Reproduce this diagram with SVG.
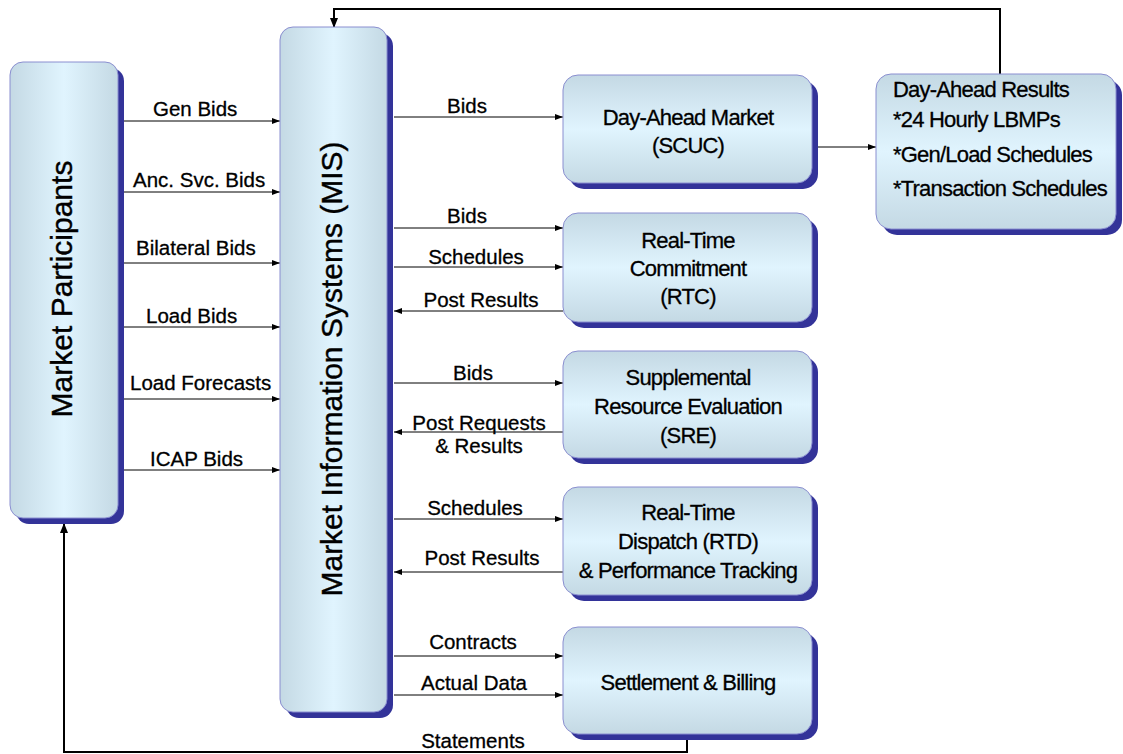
<svg xmlns="http://www.w3.org/2000/svg" width="1123" height="754" viewBox="0 0 1123 754">
<style>
.shadow{fill:#333399}
.v{fill:url(#gv);stroke:#8a8ed0;stroke-width:1}
.h{fill:url(#gh);stroke:#8a8ed0;stroke-width:1}
text{font-family:"Liberation Sans",Arial,sans-serif;fill:#000;stroke:#000;stroke-width:0.3}
.bt{font-size:22px;letter-spacing:-0.8px;text-anchor:middle}
.big{font-size:30px;text-anchor:middle;stroke-width:0.4}
.lb{font-size:20.5px}
.rt{font-size:22px;letter-spacing:-0.8px}
.c{stroke:#000;stroke-width:1;fill:none}
.ct{stroke:#000;stroke-width:2;fill:none}
</style>
<defs>
<linearGradient id="gv" x1="0" y1="0" x2="1" y2="0">
<stop offset="0" stop-color="#c4d9e4"/>
<stop offset="0.5" stop-color="#e0f4fe"/>
<stop offset="1" stop-color="#c4d9e4"/>
</linearGradient>
<linearGradient id="gh" x1="0" y1="0" x2="0" y2="1">
<stop offset="0" stop-color="#c4d9e4"/>
<stop offset="0.5" stop-color="#e0f4fe"/>
<stop offset="1" stop-color="#c4d9e4"/>
</linearGradient>
<marker id="ah" markerUnits="userSpaceOnUse" markerWidth="8" markerHeight="6" refX="8" refY="3" orient="auto">
<path d="M0,0 L8,3 L0,6 z" fill="#000"/>
</marker>
<marker id="ahb" markerUnits="userSpaceOnUse" markerWidth="10" markerHeight="8" refX="9" refY="4" orient="auto">
<path d="M0,0 L10,4 L0,8 z" fill="#000"/>
</marker>
</defs>

<g id="connectors">
<line class="c" x1="124" y1="121" x2="280" y2="121" marker-end="url(#ah)"/>
<line class="c" x1="124" y1="192" x2="280" y2="192" marker-end="url(#ah)"/>
<line class="c" x1="124" y1="263" x2="280" y2="263" marker-end="url(#ah)"/>
<line class="c" x1="124" y1="327" x2="280" y2="327" marker-end="url(#ah)"/>
<line class="c" x1="124" y1="399" x2="280" y2="399" marker-end="url(#ah)"/>
<line class="c" x1="124" y1="470" x2="280" y2="470" marker-end="url(#ah)"/>

<line class="c" x1="394" y1="117" x2="563" y2="117" marker-end="url(#ah)"/>
<line class="c" x1="394" y1="228" x2="563" y2="228" marker-end="url(#ah)"/>
<line class="c" x1="394" y1="267" x2="563" y2="267" marker-end="url(#ah)"/>
<line class="c" x1="563" y1="311" x2="394" y2="311" marker-end="url(#ah)"/>
<line class="c" x1="394" y1="383" x2="563" y2="383" marker-end="url(#ah)"/>
<line class="c" x1="563" y1="432" x2="394" y2="432" marker-end="url(#ah)"/>
<line class="c" x1="394" y1="519" x2="563" y2="519" marker-end="url(#ah)"/>
<line class="c" x1="563" y1="572" x2="394" y2="572" marker-end="url(#ah)"/>
<line class="c" x1="394" y1="656" x2="563" y2="656" marker-end="url(#ah)"/>
<line class="c" x1="394" y1="695" x2="563" y2="695" marker-end="url(#ah)"/>

<line class="c" x1="818" y1="147" x2="876" y2="147" marker-end="url(#ah)"/>
<polyline class="ct" points="1000,74 1000,9 334,9 334,27" marker-end="url(#ahb)"/>
<polyline class="ct" points="687,740 687,752 64,752 64,524" marker-end="url(#ahb)"/>

<text class="lb" x="153" y="116">Gen Bids</text>
<text class="lb" x="133" y="187">Anc. Svc. Bids</text>
<text class="lb" x="136" y="255">Bilateral Bids</text>
<text class="lb" x="146" y="323">Load Bids</text>
<text class="lb" x="130" y="390">Load Forecasts</text>
<text class="lb" x="150" y="466">ICAP Bids</text>

<text class="lb" x="467" y="113" text-anchor="middle">Bids</text>
<text class="lb" x="467" y="223" text-anchor="middle">Bids</text>
<text class="lb" x="476" y="264" text-anchor="middle">Schedules</text>
<text class="lb" x="481" y="307" text-anchor="middle">Post Results</text>
<text class="lb" x="473" y="380" text-anchor="middle">Bids</text>
<text class="lb" x="479" y="430" text-anchor="middle">Post Requests</text>
<text class="lb" x="479" y="453" text-anchor="middle">&amp; Results</text>
<text class="lb" x="475" y="515" text-anchor="middle">Schedules</text>
<text class="lb" x="482" y="565" text-anchor="middle">Post Results</text>
<text class="lb" x="473" y="649" text-anchor="middle">Contracts</text>
<text class="lb" x="474" y="690" text-anchor="middle">Actual Data</text>
<text class="lb" x="473" y="748" text-anchor="middle">Statements</text>
</g>

<g id="market-participants">
<rect class="shadow" x="16" y="68" width="108" height="456" rx="13"/>
<rect class="v" x="10" y="62" width="108" height="456" rx="13"/>
<text class="big" transform="translate(72,289) rotate(-90)">Market Participants</text>
</g>

<g id="mis">
<rect class="shadow" x="286" y="33" width="107" height="685" rx="13"/>
<rect class="v" x="280" y="27" width="107" height="685" rx="13"/>
<text class="big" transform="translate(342,369) rotate(-90)">Market Information Systems (MIS)</text>
</g>

<g id="day-ahead-market">
<rect class="shadow" x="569" y="81" width="249" height="108" rx="15"/>
<rect class="h" x="563" y="75" width="249" height="108" rx="15"/>
<text class="bt" x="688" y="125">Day-Ahead Market</text>
<text class="bt" x="688" y="153">(SCUC)</text>
</g>

<g id="rtc">
<rect class="shadow" x="569" y="219" width="249" height="109" rx="15"/>
<rect class="h" x="563" y="213" width="249" height="109" rx="15"/>
<text class="bt" x="688" y="248">Real-Time</text>
<text class="bt" x="688" y="276">Commitment</text>
<text class="bt" x="688" y="304">(RTC)</text>
</g>

<g id="sre">
<rect class="shadow" x="569" y="357" width="249" height="107" rx="15"/>
<rect class="h" x="563" y="351" width="249" height="107" rx="15"/>
<text class="bt" x="688" y="385">Supplemental</text>
<text class="bt" x="688" y="414">Resource Evaluation</text>
<text class="bt" x="688" y="443">(SRE)</text>
</g>

<g id="rtd">
<rect class="shadow" x="569" y="493" width="249" height="108" rx="15"/>
<rect class="h" x="563" y="487" width="249" height="108" rx="15"/>
<text class="bt" x="688" y="520">Real-Time</text>
<text class="bt" x="688" y="549">Dispatch (RTD)</text>
<text class="bt" x="688" y="578">&amp; Performance Tracking</text>
</g>

<g id="settlement">
<rect class="shadow" x="569" y="633" width="249" height="107" rx="15"/>
<rect class="h" x="563" y="627" width="249" height="107" rx="15"/>
<text class="bt" x="688" y="690">Settlement &amp; Billing</text>
</g>

<g id="day-ahead-results">
<rect class="shadow" x="882" y="80" width="240" height="155" rx="15"/>
<rect class="h" x="876" y="74" width="240" height="155" rx="15"/>
<text class="rt" x="893" y="97">Day-Ahead Results</text>
<text class="rt" x="893" y="127">*24 Hourly LBMPs</text>
<text class="rt" x="893" y="162">*Gen/Load Schedules</text>
<text class="rt" x="893" y="196">*Transaction Schedules</text>
</g>
</svg>
